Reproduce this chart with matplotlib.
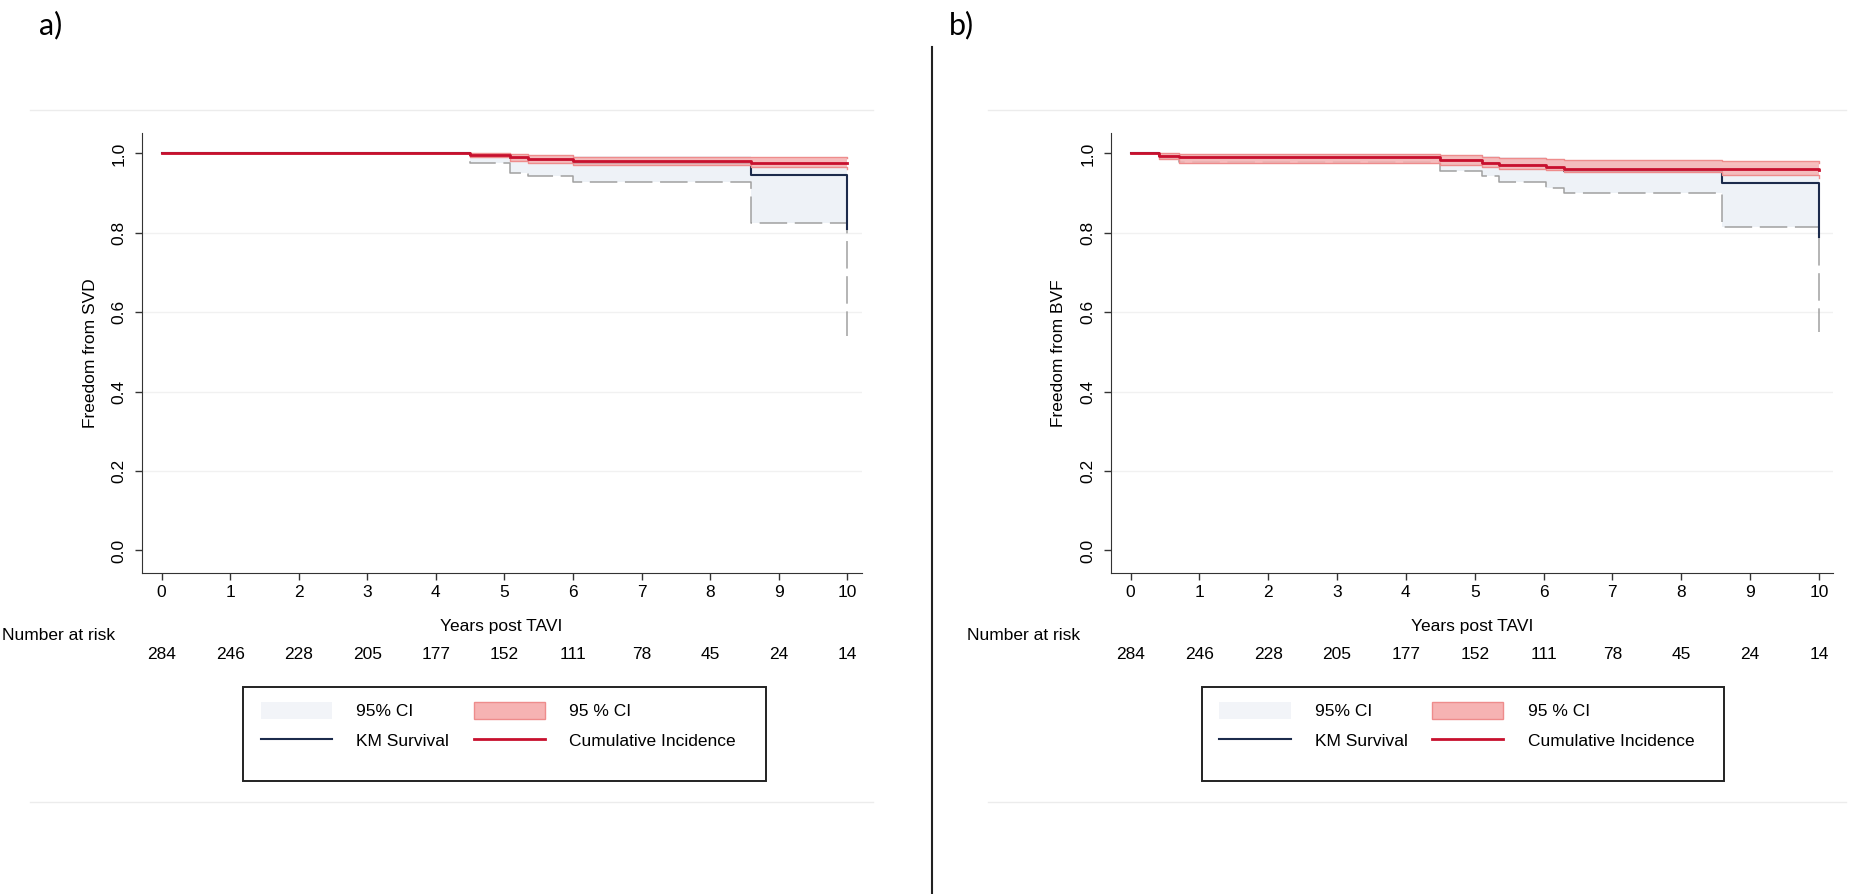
import matplotlib
matplotlib.use('Agg')
import matplotlib.pyplot as plt
from matplotlib.patches import Patch, Rectangle
from matplotlib.lines import Line2D

plt.rcParams['font.family'] = ['Liberation Sans', 'DejaVu Sans']

# --- data ---
years = [0, 1, 2, 3, 4, 5, 6, 7, 8, 9, 10]
at_risk = [284, 246, 228, 205, 177, 152, 111, 78, 45, 24, 14]

# a) SVD
t_a = [0, 4.5, 5.08, 5.34, 6.0, 8.6, 10.0]
km_a = [1.0, 0.996, 0.989, 0.983, 0.975, 0.946, 0.81]
km_lo_a = [1.0, 0.975, 0.951, 0.943, 0.928, 0.824, 0.54]
km_hi_a = [1.0, 1.0, 0.998, 0.996, 0.993, 0.985, 0.95]
cif_a = [1.0, 0.997, 0.991, 0.986, 0.980, 0.976, 0.975]
cif_lo_a = [1.0, 0.990, 0.982, 0.976, 0.970, 0.965, 0.962]
cif_hi_a = [1.0, 1.0, 0.998, 0.995, 0.992, 0.990, 0.988]

# b) BVF
t_b = [0, 0.42, 0.7, 4.5, 5.1, 5.35, 6.03, 6.3, 8.6, 10.0]
km_b = [1.0, 0.994, 0.990, 0.984, 0.977, 0.972, 0.963, 0.955, 0.925, 0.79]
km_lo_b = [1.0, 0.985, 0.978, 0.956, 0.944, 0.929, 0.914, 0.900, 0.815, 0.55]
km_hi_b = [1.0, 1.0, 0.999, 0.996, 0.993, 0.990, 0.986, 0.982, 0.970, 0.93]
cif_b = [1.0, 0.994, 0.990, 0.984, 0.977, 0.972, 0.965, 0.962, 0.960, 0.958]
cif_lo_b = [1.0, 0.985, 0.975, 0.972, 0.966, 0.962, 0.958, 0.954, 0.945, 0.937]
cif_hi_b = [1.0, 1.0, 0.998, 0.995, 0.991, 0.988, 0.985, 0.983, 0.980, 0.976]

KM_COL = '#1c2b4c'
CIF_COL = '#c8102e'
KM_FILL = '#eef2f7'
CIF_FILL = '#f6b3b3'
CIF_EDGE = '#ee8c8c'

fig = plt.figure(figsize=(18.65, 8.94), dpi=100)


def draw_panel(left, width, t, km, km_lo, km_hi, cif, cif_lo, cif_hi, ylabel, tag, risk_x, leg_x):
    ax = fig.add_axes([left, 0.3594, width, 0.4916])
    # faint grid
    for g in [0.2, 0.4, 0.6, 0.8]:
        ax.axhline(g, color='#f1f1f1', lw=1, zorder=0)

    ax.fill_between(t, km_lo, km_hi, step='post', color=KM_FILL, lw=0, zorder=1)
    ax.step(t, km_lo, where='post', color='#a0a0a0', lw=1.1, dashes=(18, 5), zorder=2)
    ax.step(t, km, where='post', color=KM_COL, lw=1.5, zorder=3)

    ax.fill_between(t, cif_lo, cif_hi, step='post', color=CIF_FILL, lw=0, alpha=0.85, zorder=4)
    ax.step(t, cif_lo, where='post', color=CIF_EDGE, lw=1.0, zorder=4)
    ax.step(t, cif_hi, where='post', color=CIF_EDGE, lw=1.0, zorder=4)
    ax.step(t, cif, where='post', color=CIF_COL, lw=2.0, zorder=5)

    ax.set_xlim(-0.29, 10.21)
    ax.set_ylim(-0.056, 1.051)
    ax.set_xticks(years)
    ax.set_yticks([0, 0.2, 0.4, 0.6, 0.8, 1.0])
    ax.set_yticklabels(['0.0', '0.2', '0.4', '0.6', '0.8', '1.0'], rotation=90, va='center')
    ax.tick_params(axis='both', labelsize=12.5, length=5, width=1, color='#333333')
    ax.tick_params(axis='y', pad=6)
    ax.spines['top'].set_visible(False)
    ax.spines['right'].set_visible(False)
    ax.spines['left'].set_color('#333333')
    ax.spines['bottom'].set_color('#333333')
    ax.set_xlabel('Years post TAVI', fontsize=12.5, labelpad=14)
    ax.set_ylabel(ylabel, fontsize=12.5, labelpad=10)

    # number at risk
    for x, n in zip(years, at_risk):
        ax.text(x, -0.187, str(n), transform=ax.get_xaxis_transform(),
                ha='center', va='center', fontsize=12.5)
    fig.text(risk_x, 1 - 636 / 894, 'Number at risk', ha='left', va='center', fontsize=12.5)

    fig.text(tag[1], 0.988, tag[0], ha='left', va='top', fontsize=22, family=['Lato', 'DejaVu Sans'])

    # legend
    fig.add_artist(Rectangle((leg_x, 0.126), 0.280, 0.106, transform=fig.transFigure,
                             fill=False, edgecolor='#222222', lw=1.4))
    handles = [Patch(facecolor='#f2f4f8', edgecolor='none'),
               Line2D([], [], color=KM_COL, lw=1.5),
               Patch(facecolor=CIF_FILL, edgecolor=CIF_EDGE, lw=1),
               Line2D([], [], color=CIF_COL, lw=2)]
    labels = ['95% CI', 'KM Survival', '95 % CI', 'Cumulative Incidence']
    ax.legend(handles, labels, ncol=2, frameon=False, fontsize=12.5,
              loc='upper left', bbox_to_anchor=(leg_x + 0.001, 0.232),
              bbox_transform=fig.transFigure, handlelength=4.1, handleheight=1.1,
              handletextpad=1.4, columnspacing=1.4, labelspacing=0.7)
    return ax


draw_panel(0.076, 0.386, t_a, km_a, km_lo_a, km_hi_a, cif_a, cif_lo_a, cif_hi_a,
           'Freedom from SVD', ('a)', 0.021), 0.001, 0.1305)
draw_panel(0.5955, 0.3875, t_b, km_b, km_lo_b, km_hi_b, cif_b, cif_lo_b, cif_hi_b,
           'Freedom from BVF', ('b)', 0.509), 0.5185, 0.6445)

# separator and faint frame lines
fig.add_artist(Line2D([0.4997, 0.4997], [0.0, 0.947], transform=fig.transFigure,
                      color='#222222', lw=1.5))
for x0, x1 in [(0.016, 0.468), (0.53, 0.99)]:
    fig.add_artist(Line2D([x0, x1], [1 - 110 / 894, 1 - 110 / 894], transform=fig.transFigure,
                          color='#ececec', lw=1))
    fig.add_artist(Line2D([x0, x1], [1 - 802 / 894, 1 - 802 / 894], transform=fig.transFigure,
                          color='#ececec', lw=1))

plt.savefig('out.png', dpi=100)
